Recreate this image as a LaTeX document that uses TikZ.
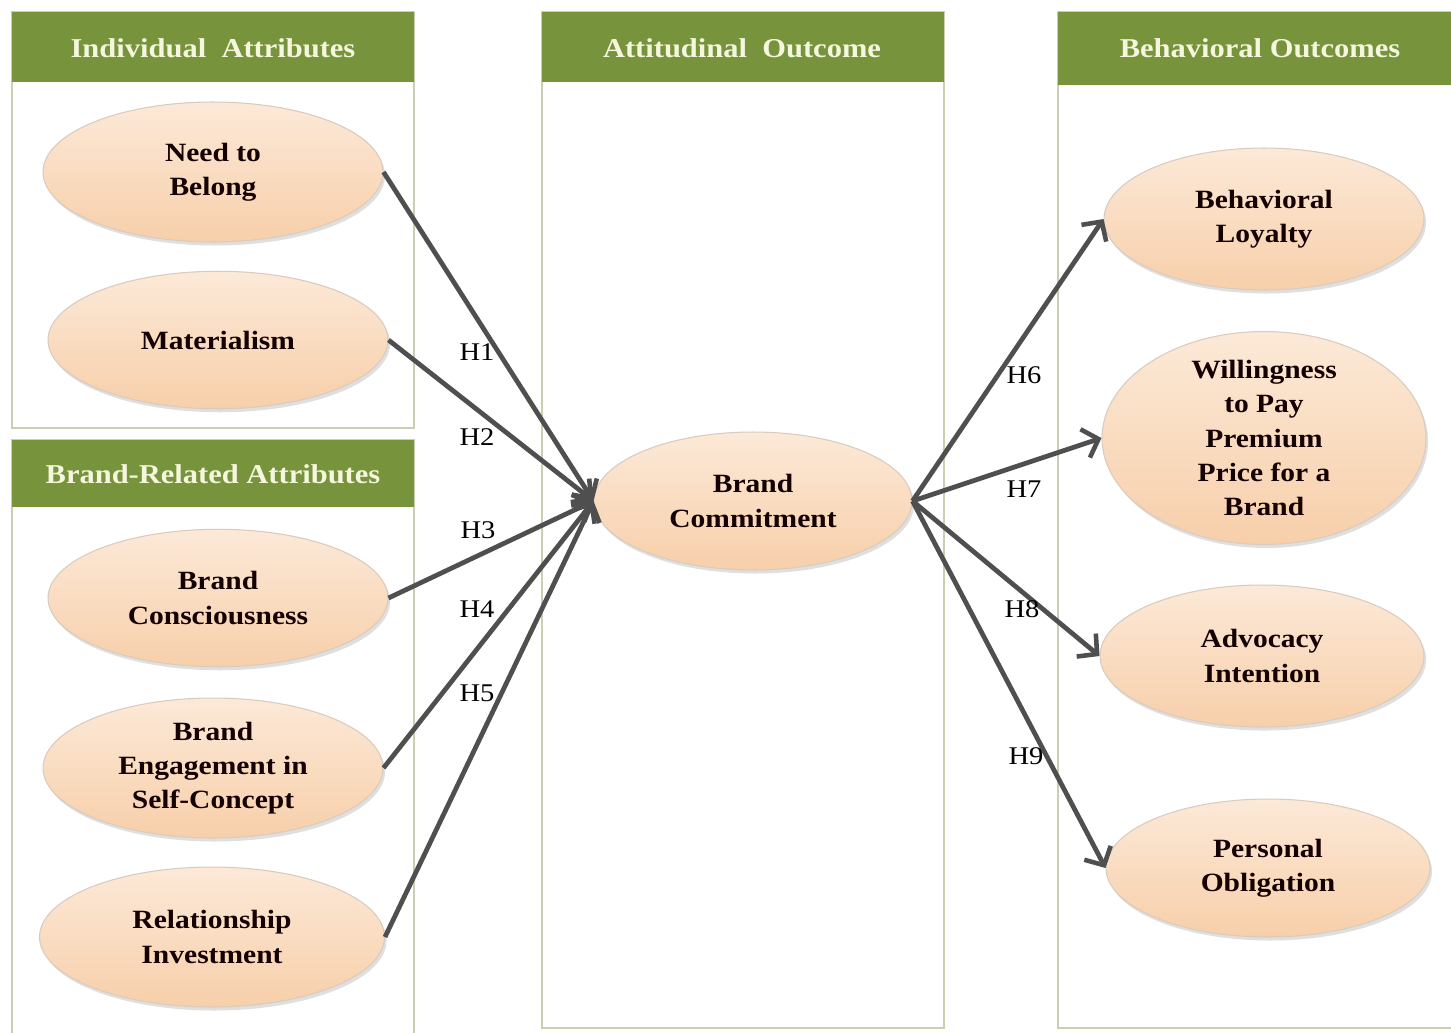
\documentclass[tikz,border=0pt]{standalone}
\usepackage{fontspec}
\setmainfont{Liberation Serif}[FakeStretch=1.12]
\usetikzlibrary{arrows.meta,shapes.geometric,shadows}
\definecolor{hdr}{HTML}{77933C}
\definecolor{hdrtxt}{HTML}{F4F6DE}
\definecolor{boxline}{HTML}{C9CFB2}
\definecolor{peachtop}{HTML}{FCE9D8}
\definecolor{peachmid}{HTML}{F9D8B9}
\definecolor{peachbot}{HTML}{F7CFAA}
\definecolor{ovalline}{HTML}{D9CBBE}
\definecolor{arrowc}{HTML}{4F4F4F}
\begin{document}
\begin{tikzpicture}[x=0.02cm,y=-0.02cm,
  panel/.style={draw=boxline, line width=1.2pt},
  header/.style={fill=hdr, draw=none},
  htext/.style={text=hdrtxt, font=\fontsize{15.5}{18}\selectfont\bfseries, inner sep=0pt},
  oval/.style={ellipse, inner sep=0pt, top color=peachtop, middle color=peachmid, bottom color=peachbot,
    draw=ovalline, line width=0.6pt,
    drop shadow={shadow xshift=1.2pt, shadow yshift=-2pt, opacity=0.25, fill=gray}},
  otext/.style={align=center, font=\fontsize{15}{19.5}\selectfont\bfseries, text=black!92!red, inner sep=0pt},
  link/.style={draw=arrowc, line width=2.7pt, -{Straight Barb[length=8pt,width=17pt,line width=2.6pt]}},
  hlab/.style={font=\fontsize{14.5}{17}\selectfont, inner sep=0pt}
]
\clip (0,0) rectangle (1451,1032);
\fill[white] (0,0) rectangle (1451,1032);

% panels
\draw[panel] (12,12) rectangle (414,428);
\fill[header] (12,12) rectangle (414,82);
\node[htext] (h1) at (213,48) {Individual\ \ Attributes};

\draw[panel] (12,440) rectangle (414,1045);
\fill[header] (12,440) rectangle (414,507);
\node[htext] (h2) at (213,474) {Brand-Related Attributes};

\draw[panel] (542,12) rectangle (944,1028);
\fill[header] (542,12) rectangle (944,82);
\node[htext] (h3) at (742,48) {Attitudinal\ \ Outcome};

\draw[panel] (1058,12) rectangle (1465,1028);
\fill[header] (1058,12) rectangle (1465,85);
\node[htext] (h4) at (1260,48) {Behavioral Outcomes};

% left ellipses
\node[oval, minimum width=6.8cm, minimum height=2.8cm] (nb) at (213,172) {};
\node[otext] (nbt) at (nb.center) {Need to\\Belong};
\node[oval, minimum width=6.8cm, minimum height=2.75cm] (ma) at (218,340) {};
\node[otext] (mat) at (ma.center) {Materialism};
\node[oval, minimum width=6.8cm, minimum height=2.75cm] (bc) at (218,598) {};
\node[otext] (bct) at (bc.center) {Brand\\Consciousness};
\node[oval, minimum width=6.8cm, minimum height=2.8cm] (be) at (213,768) {};
\node[otext] (bet) at (be.center) {Brand\\Engagement in\\Self-Concept};
\node[oval, minimum width=6.9cm, minimum height=2.8cm] (ri) at (212,937) {};
\node[otext] (rit) at (ri.center) {Relationship\\Investment};

% center
\node[oval, minimum width=6.36cm, minimum height=2.76cm] (cm) at (753,501) {};
\node[otext] (cmt) at (cm.center) {Brand\\Commitment};

% right ellipses
\node[oval, minimum width=6.4cm, minimum height=2.84cm] (bl) at (1264,219) {};
\node[otext] (blt) at (bl.center) {Behavioral\\Loyalty};
\node[oval, minimum width=6.48cm, minimum height=4.26cm] (wp) at (1264,438) {};
\node[otext] (wpt) at (wp.center) {Willingness\\to Pay\\Premium\\Price for a\\Brand};
\node[oval, minimum width=6.48cm, minimum height=2.84cm] (ai) at (1262,656) {};
\node[otext] (ait) at (ai.center) {Advocacy\\Intention};
\node[oval, minimum width=6.48cm, minimum height=2.76cm] (po) at (1268,868) {};
\node[otext] (pot) at (po.center) {Personal\\Obligation};

% connectors
\draw[link] (nb.east) -- (cm.west);
\draw[link] (ma.east) -- (cm.west);
\draw[link] (bc.east) -- (cm.west);
\draw[link] (be.east) -- (cm.west);
\draw[link] (ri.east) -- (cm.west);
\draw[link] (cm.east) -- (bl.west);
\draw[link] (cm.east) -- (wp.west);
\draw[link] (cm.east) -- (ai.west);
\draw[link] (cm.east) -- (po.west);

% labels
\node[hlab] (l1) at (477,352) {H1};
\node[hlab] (l2) at (477,437) {H2};
\node[hlab] (l3) at (478,530) {H3};
\node[hlab] (l4) at (477,609) {H4};
\node[hlab] (l5) at (477,693) {H5};
\node[hlab] (l6) at (1024,375) {H6};
\node[hlab] (l7) at (1024,489) {H7};
\node[hlab] (l8) at (1022,609) {H8};
\node[hlab] (l9) at (1026,756) {H9};
\end{tikzpicture}
\end{document}
